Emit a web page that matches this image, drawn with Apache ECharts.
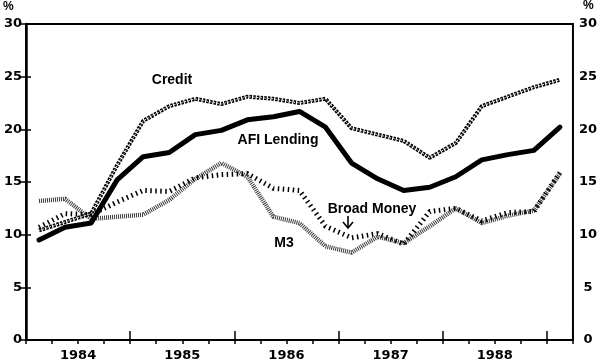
<!DOCTYPE html>
<html>
<head>
<meta charset="utf-8">
<script src="https://cdn.jsdelivr.net/npm/echarts@6/dist/echarts.min.js"></script>
<style>html,body{margin:0;padding:0;background:#fff}#c{width:600px;height:363px}</style>
</head>
<body>
<div id="c"></div>
<script>
// Quarterly observations, mid-quarter positions (quarter index + 0.5 from start of 1984 axis)
var yearLabels = ['1984', '1985', '1986', '1987', '1988'];
var yTicks = [0, 5, 10, 15, 20, 25, 30];
var afiLending = [9.5, 10.7, 11.1, 15.2, 17.4, 17.8, 19.5, 19.9, 20.9, 21.2, 21.7, 20.2, 16.8, 15.3, 14.2, 14.5, 15.5, 17.1, 17.6, 18.0, 20.2];
var credit = [10.4, 11.2, 12.0, 16.6, 20.8, 22.2, 22.9, 22.4, 23.1, 22.9, 22.5, 22.9, 20.1, 19.5, 18.9, 17.3, 18.7, 22.2, 23.1, 24.0, 24.7];
var broadMoney = [10.7, 12.0, 11.9, 13.1, 14.2, 14.1, 15.4, 15.7, 15.8, 14.4, 14.2, 10.8, 9.7, 10.1, 9.1, 12.2, 12.5, 11.3, 12.1, 12.2, 15.9];
var m3 = [13.2, 13.4, 11.5, 11.7, 11.9, 13.3, 15.3, 16.8, 15.5, 11.7, 11.1, 8.9, 8.3, 9.8, 9.2, 10.8, 12.5, 11.1, 11.8, 12.3, 15.8];

function pts(arr) { return arr.map(function (v, i) { return [i + 0.5, v]; }); }

var chart = echarts.init(document.getElementById('c'), null, {renderer: 'canvas'});
var tickFont = {fontFamily: 'DejaVu Sans', fontWeight: 'bold', fontSize: 13, color: '#000'};
var annFont = {fontFamily: 'Liberation Sans', fontWeight: 'bold', fontSize: 14, fill: '#000'};

chart.setOption({
  animation: false,
  grid: {left: 26, right: 25, top: 24, bottom: 23, show: true, borderColor: '#000', borderWidth: 2, backgroundColor: 'transparent'},
  xAxis: [
    {type: 'value', min: 0, max: 21, interval: 1, position: 'bottom',
     axisLine: {show: true, lineStyle: {color: '#000', width: 2}},
     axisTick: {show: true, inside: false, length: 4, lineStyle: {color: '#000', width: 1.5}},
     axisLabel: {show: false}, splitLine: {show: false}},
    {type: 'value', min: 0, max: 21, interval: 4, position: 'bottom',
     axisLine: {show: false},
     axisTick: {show: true, inside: true, length: 9, lineStyle: {color: '#000', width: 1.5}},
     axisLabel: {show: false}, splitLine: {show: false}},
    {type: 'value', min: 0, max: 21, interval: 2, position: 'bottom',
     axisLine: {show: false}, axisTick: {show: false}, splitLine: {show: false},
     axisLabel: Object.assign({show: true, margin: 9, showMaxLabel: false, showMinLabel: true,
       formatter: function (v) { return (v % 4 === 2) ? yearLabels[(v - 2) / 4] : ''; }}, tickFont)}
  ],
  yAxis: [
    {type: 'value', min: yTicks[0], max: yTicks[yTicks.length - 1], interval: 5, position: 'left',
     axisLine: {show: true, lineStyle: {color: '#000', width: 2}},
     axisTick: {show: true, inside: false, length: 5, lineStyle: {color: '#000', width: 1.5}},
     axisLabel: Object.assign({margin: 4}, tickFont), splitLine: {show: false}},
    {type: 'value', min: yTicks[0], max: yTicks[yTicks.length - 1], interval: 5, position: 'right',
     axisLine: {show: true, lineStyle: {color: '#000', width: 2.5}},
     axisTick: {show: true, inside: false, length: 5, lineStyle: {color: '#000', width: 1.5}},
     axisLabel: Object.assign({margin: 15, align: 'center'}, tickFont), splitLine: {show: false}}
  ],
  series: [
    {name: 'M3', type: 'line', data: pts(m3), showSymbol: false, symbol: 'none',
     lineStyle: {color: '#3a3a3a', width: 4.5, type: [1, 1]}, z: 2},
    {name: 'Broad Money', type: 'line', data: pts(broadMoney), symbol: 'none',
     lineStyle: {color: '#000', width: 5, type: [1.5, 3.5], cap: 'butt'}, z: 3},
    {name: 'Credit', type: 'line', data: pts(credit), symbol: 'none',
     lineStyle: {color: '#000', width: 4, type: [2.5, 1.2]}, z: 4},
    {name: 'Credit2', type: 'line', data: pts(credit), symbol: 'none',
     lineStyle: {color: '#fff', width: 0.9, type: [1.5, 2.2]}, z: 5},
    {name: 'AFI Lending', type: 'line', data: pts(afiLending), symbol: 'none',
     lineStyle: {color: '#000', width: 5, join: 'round', cap: 'round'}, z: 6}
  ],
  graphic: [
    {type: 'text', left: 3, top: 1, style: {text: '%', font: 'bold 12px Liberation Sans', fill: '#000'}},
    {type: 'text', left: 583, top: 0, style: {text: '%', font: 'bold 12px Liberation Sans', fill: '#000'}},
    {type: 'text', x: 172, y: 80, style: Object.assign({text: 'Credit', align: 'center', verticalAlign: 'middle'}, annFont)},
    {type: 'text', x: 278, y: 140, style: Object.assign({text: 'AFI Lending', align: 'center', verticalAlign: 'middle'}, annFont)},
    {type: 'text', x: 372, y: 209, style: Object.assign({text: 'Broad Money', align: 'center', verticalAlign: 'middle'}, annFont)},
    {type: 'text', x: 284, y: 243, style: Object.assign({text: 'M3', align: 'center', verticalAlign: 'middle'}, annFont)},
    {type: 'line', shape: {x1: 348, y1: 216, x2: 348, y2: 228}, style: {stroke: '#000', lineWidth: 1.6}},
    {type: 'polyline', shape: {points: [[343, 222], [348, 228], [353, 222]]}, style: {stroke: '#000', lineWidth: 1.6, fill: null}}
  ]
});
</script>
</body>
</html>
